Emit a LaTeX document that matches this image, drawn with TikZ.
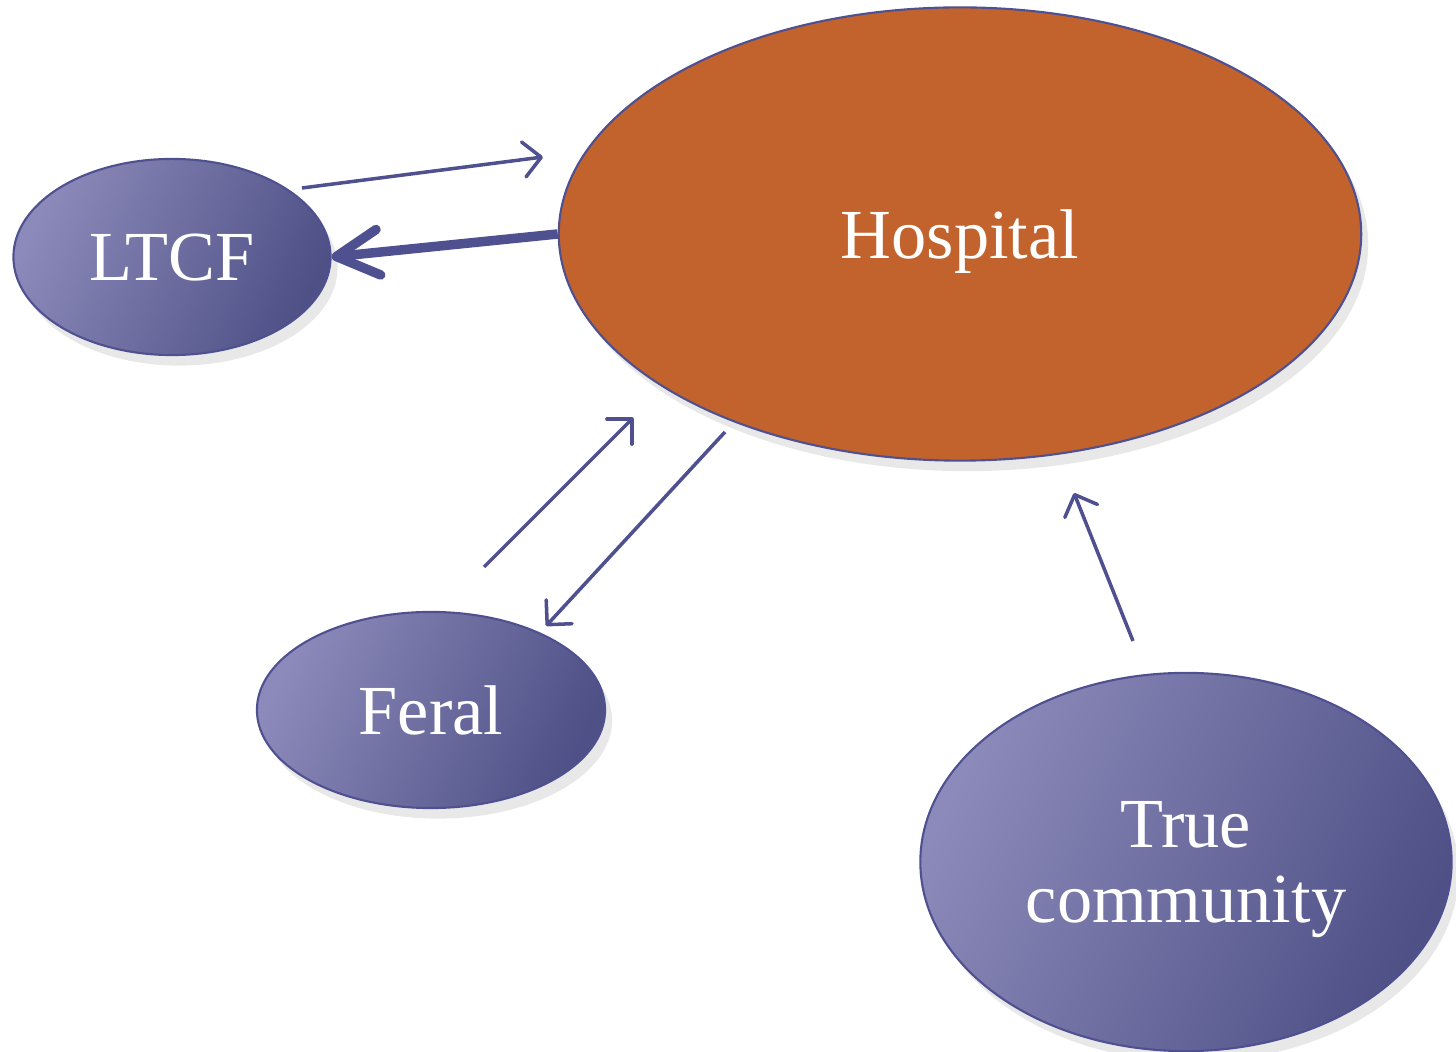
\documentclass[tikz,border=0pt]{standalone}
\usepackage{fontspec}
\setmainfont{Liberation Serif}
\usepackage{tikz}
\usetikzlibrary{shapes, shadows, arrows.meta, positioning}

\definecolor{hospfill}{HTML}{C2632D}
\definecolor{edgeblue}{HTML}{4F5090}
\definecolor{purplelight}{HTML}{8C8ABA}
\definecolor{purpledark}{HTML}{4E5086}

\begin{document}
\begin{tikzpicture}[x=0.01cm, y=-0.01cm,
		sitenode/.style={draw=edgeblue, ellipse, line width=0.6pt, text=white, align=center,
			left color=purplelight, right color=purpledark, shading angle=65,
			drop shadow={opacity=0.18, shadow xshift=2pt, shadow yshift=-3pt},
			inner sep=0pt, text depth=0pt, font=\fontsize{20}{21.3}\selectfont},
		hospnode/.style={draw=edgeblue, ellipse, line width=0.6pt, fill=hospfill, text=white,
			drop shadow={opacity=0.18, shadow xshift=2pt, shadow yshift=-3pt},
			inner sep=0pt, text depth=0pt, font=\fontsize{20}{21.3}\selectfont},
		thinarrow/.style={-{Straight Barb[length=5pt, width=10pt, round]}, line width=1pt, edgeblue},
		thickarrow/.style={-{Straight Barb[length=12pt, width=13pt, round]}, line width=2.7pt, edgeblue}
		]
		
		\useasboundingbox (0,0) rectangle (1456,1052);
		
		% Sites
		\node[hospnode, minimum width=8.02cm, minimum height=4.53cm] (hosp) at (960, 234) {Hospital};
		\node[sitenode, minimum width=3.17cm, minimum height=1.96cm] (ltcf) at (172, 257) {LTCF};
		\node[sitenode, minimum width=3.48cm, minimum height=1.96cm] (feral) at (431, 710) {Feral};
		\node[sitenode, minimum width=5.31cm, minimum height=3.78cm] (comm) at (1186, 862) {True\\community};
		
		% Arrow ends
		\coordinate (a1) at (302, 188);
		\coordinate (a2) at (543, 157);
		\coordinate (b1) at (484, 567);
		\coordinate (b2) at (633, 418);
		\coordinate (c1) at (725, 432);
		\coordinate (c2) at (546, 626);
		\coordinate (d1) at (1133, 641);
		\coordinate (d2) at (1074, 493);
		
		% Transfers
		\draw[thinarrow] (a1) -- (a2);
		\draw[thickarrow] (hosp.west) -- (ltcf.east);
		\draw[thinarrow] (b1) -- (b2);
		\draw[thinarrow] (c1) -- (c2);
		\draw[thinarrow] (d1) -- (d2);
		
\end{tikzpicture}
\end{document}
